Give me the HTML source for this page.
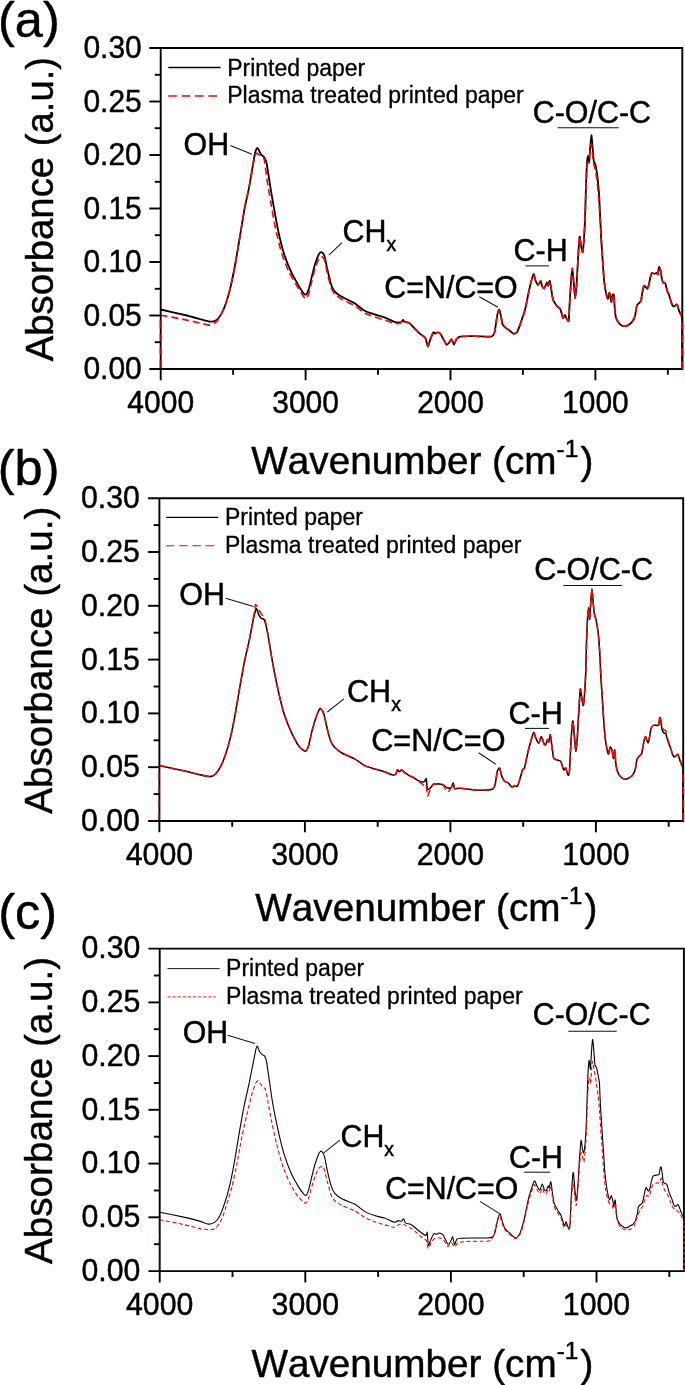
<!DOCTYPE html>
<html lang="en"><head><meta charset="utf-8"><title>FTIR spectra</title>
<style>html,body{margin:0;padding:0;background:#fff}body{width:685px;height:1385px;overflow:hidden}svg text{font-kerning:none}</style>
</head><body>
<svg width="685" height="1385" viewBox="0 0 685 1385" style="display:block">
<rect width="685" height="1385" fill="#fff"/>
<g>
<path d="M160.7,309.5 C163.1,310.1 180.9,314.1 184.8,315.0 C188.7,315.9 197.2,318.3 199.7,319.0 C202.2,319.7 208.0,321.4 209.6,321.6 C211.2,321.8 214.7,321.3 215.8,320.6 C216.9,319.9 219.8,316.6 220.8,314.9 C221.8,313.2 224.8,306.6 225.8,303.7 C226.8,300.8 229.7,290.6 230.7,286.4 C231.7,282.2 234.8,266.5 235.7,261.5 C236.6,256.5 239.0,241.9 239.9,236.7 C240.8,231.5 243.5,214.5 244.4,209.4 C245.3,204.3 248.5,190.8 249.4,185.8 C250.3,180.8 253.2,163.3 253.8,159.8 C254.4,156.3 255.2,152.3 255.6,151.1 C256.0,149.9 257.1,147.9 257.5,147.9 C257.9,147.9 258.9,150.4 259.3,151.1 C259.7,151.8 260.8,154.2 261.3,154.8 C261.8,155.4 263.7,156.4 264.2,157.3 C264.7,158.2 266.2,161.3 266.7,163.5 C267.2,165.7 268.6,175.8 269.2,179.6 C269.8,183.4 272.0,197.0 272.9,202.0 C273.8,207.0 276.8,224.1 277.9,229.3 C279.0,234.5 282.7,249.8 284.1,254.1 C285.5,258.4 290.0,269.5 291.5,272.7 C293.0,275.9 297.8,284.3 299.0,286.4 C300.2,288.5 303.3,293.0 304.0,293.8 C304.7,294.6 305.9,294.8 306.4,294.3 C306.9,293.8 308.3,290.6 308.9,288.8 C309.4,287.0 311.3,278.9 311.9,276.4 C312.5,273.9 314.4,266.2 315.1,264.0 C315.8,261.8 318.3,255.3 318.9,254.1 C319.5,252.9 320.8,252.0 321.3,252.1 C321.8,252.2 323.7,253.7 324.3,255.5 C324.9,257.3 326.7,266.8 327.4,269.7 C328.1,272.6 330.4,282.4 331.1,284.6 C331.8,286.8 333.7,290.4 334.8,291.6 C335.9,292.8 340.3,295.8 342.3,297.0 C344.3,298.2 352.5,301.8 354.7,303.2 C356.9,304.6 362.6,309.6 364.6,310.7 C366.6,311.8 372.5,313.7 374.5,314.4 C376.5,315.1 382.5,316.7 384.5,317.4 C386.5,318.1 392.8,321.3 394.4,321.8 C396.0,322.3 399.7,322.5 400.6,322.3 C401.5,322.1 402.7,319.9 403.1,319.9 C403.5,319.8 403.7,321.5 404.3,321.8 C404.9,322.1 408.3,322.5 409.3,323.1 C410.3,323.7 413.1,326.9 414.2,328.0 C415.3,329.1 419.3,333.2 420.4,334.2 C421.5,335.2 424.6,336.8 425.4,338.0 C426.1,339.2 427.4,346.6 427.9,346.7 C428.4,346.8 429.8,340.6 430.4,339.2 C430.9,337.8 432.9,332.9 433.4,332.3 C433.9,331.8 434.9,333.7 435.3,333.7 C435.7,333.7 437.3,332.3 437.8,332.3 C438.3,332.3 439.8,333.1 440.3,333.7 C440.8,334.3 442.2,336.9 442.8,338.0 C443.4,339.1 445.9,344.2 446.5,344.7 C447.1,345.2 448.5,343.4 449.0,342.9 C449.5,342.3 451.0,339.0 451.5,339.2 C452.0,339.4 453.5,344.7 454.0,344.7 C454.5,344.7 455.8,340.0 456.4,339.2 C457.0,338.4 458.9,337.0 460.2,336.7 C461.4,336.4 467.4,336.2 468.9,336.2 C470.4,336.1 473.0,336.1 474.8,336.2 C476.6,336.2 485.5,336.7 487.2,336.7 C488.9,336.7 491.4,336.7 492.2,336.2 C492.9,335.7 494.2,333.9 494.7,331.8 C495.2,329.7 496.8,317.8 497.2,315.6 C497.6,313.4 498.7,309.4 499.1,309.4 C499.5,309.4 500.5,314.1 500.9,315.6 C501.2,317.1 502.1,323.1 502.6,324.3 C503.1,325.5 505.1,327.4 505.8,328.0 C506.5,328.6 508.9,329.9 509.6,330.5 C510.4,331.1 512.6,333.5 513.3,333.7 C514.0,333.9 516.3,333.2 517.0,332.3 C517.7,331.4 519.6,326.0 520.2,324.3 C520.8,322.6 522.7,317.3 523.2,315.6 C523.8,313.9 525.2,309.0 525.7,306.9 C526.2,304.8 527.7,296.9 528.2,294.5 C528.7,292.1 530.2,285.4 530.7,283.4 C531.2,281.4 533.1,274.4 533.6,274.2 C534.1,273.9 535.1,279.8 535.6,280.9 C536.1,282.0 537.6,285.1 538.1,285.1 C538.6,285.1 540.2,280.8 540.6,280.9 C541.0,281.0 541.9,285.9 542.3,286.6 C542.7,287.3 543.8,288.7 544.3,288.3 C544.8,287.9 546.4,282.9 546.8,282.6 C547.2,282.4 547.7,286.0 548.0,285.8 C548.3,285.6 549.5,280.5 549.8,280.9 C550.1,281.3 551.0,287.7 551.3,289.6 C551.6,291.5 552.5,297.9 553.0,299.5 C553.5,301.1 556.0,304.7 556.7,305.7 C557.5,306.7 559.9,308.3 560.5,309.5 C561.1,310.7 562.4,317.3 562.9,317.9 C563.4,318.4 564.7,314.9 565.1,315.0 C565.5,315.1 566.2,318.0 566.6,318.6 C567.0,319.2 568.4,322.1 568.7,321.0 C569.0,319.9 569.2,311.6 569.4,307.8 C569.6,304.0 570.6,287.2 570.9,283.2 C571.2,279.2 572.0,268.1 572.3,268.1 C572.6,268.1 573.5,280.2 573.8,283.2 C574.1,286.2 574.9,298.4 575.2,298.4 C575.5,298.4 576.4,287.3 576.7,283.2 C577.0,279.1 577.8,261.8 578.1,257.2 C578.4,252.5 579.3,237.8 579.6,236.7 C579.9,235.5 580.7,244.1 581.0,245.7 C581.3,247.2 582.4,252.8 582.7,252.2 C583.0,251.6 583.7,243.0 583.9,239.9 C584.1,236.8 584.8,225.9 585.0,221.1 C585.2,216.3 585.6,197.7 585.8,192.2 C586.0,186.7 586.6,169.8 586.8,166.2 C587.0,162.6 587.7,156.5 587.9,156.1 C588.1,155.7 588.9,163.3 589.1,162.6 C589.3,161.9 589.9,151.6 590.1,148.9 C590.3,146.2 591.1,135.3 591.4,135.2 C591.6,135.0 592.4,144.9 592.6,147.4 C592.8,149.9 593.4,158.7 593.7,160.4 C594.0,162.1 595.0,163.1 595.4,164.8 C595.8,166.5 597.2,174.8 597.6,177.8 C598.0,180.8 598.8,191.1 599.1,195.1 C599.4,199.1 600.0,213.9 600.2,218.2 C600.4,222.5 601.0,234.1 601.2,238.4 C601.5,242.7 602.4,257.3 602.7,261.5 C603.0,265.7 603.8,277.3 604.1,280.3 C604.4,283.3 605.4,290.0 605.8,291.9 C606.2,293.8 607.3,299.0 607.7,299.1 C608.1,299.2 609.2,292.3 609.6,292.6 C610.0,292.9 611.0,301.8 611.3,302.0 C611.6,302.2 612.2,295.4 612.5,294.8 C612.8,294.2 613.7,294.1 613.9,295.5 C614.1,296.9 614.6,306.8 614.8,309.0 C615.0,311.2 615.6,316.1 616.0,317.5 C616.4,318.9 618.1,322.0 618.7,322.8 C619.3,323.6 621.2,325.4 621.9,325.7 C622.5,326.0 624.5,326.2 625.2,326.1 C625.9,326.0 628.5,324.9 629.2,324.4 C629.9,323.9 631.8,322.4 632.4,321.5 C633.0,320.6 634.7,317.1 635.1,315.5 C635.5,313.9 636.4,306.9 636.8,305.7 C637.2,304.5 638.6,303.6 639.0,303.1 C639.4,302.6 640.7,302.2 641.0,301.1 C641.3,300.1 642.0,294.1 642.3,292.6 C642.6,291.1 643.6,286.6 643.9,286.0 C644.2,285.4 645.3,286.7 645.6,287.0 C645.9,287.3 647.0,289.1 647.3,288.9 C647.6,288.7 648.6,285.8 648.9,284.7 C649.2,283.6 649.9,279.3 650.2,278.1 C650.5,276.9 651.4,273.2 651.8,272.8 C652.2,272.4 653.6,273.9 654.1,273.9 C654.6,273.9 656.4,272.8 656.8,272.8 C657.2,272.9 657.6,275.0 657.8,274.4 C658.0,273.8 658.8,267.2 659.1,266.9 C659.4,266.6 660.4,270.2 660.7,271.5 C661.0,272.8 661.7,278.3 662.0,279.4 C662.3,280.5 663.0,282.3 663.3,282.7 C663.6,283.1 664.9,282.5 665.3,283.4 C665.7,284.2 666.9,290.0 667.3,291.2 C667.7,292.4 668.8,294.1 669.2,295.2 C669.6,296.3 670.8,301.3 671.2,302.4 C671.6,303.5 672.8,306.0 673.2,306.3 C673.6,306.6 674.7,305.9 675.1,305.7 C675.5,305.5 676.7,304.1 677.1,304.6 C677.5,305.1 678.6,309.6 679.1,310.9 C679.6,312.2 682.0,316.8 682.3,317.5 L682.3,369.0" fill="none" stroke="#000" stroke-width="1.8" stroke-linejoin="round"/>
<path d="M160.7,315.2 C163.1,315.6 180.9,318.8 184.8,319.6 C188.7,320.4 197.2,322.4 199.7,323.0 C202.2,323.5 208.0,325.2 209.6,325.1 C211.2,325.1 214.7,323.4 215.8,322.4 C216.9,321.4 219.8,317.1 220.8,315.2 C221.8,313.4 224.8,306.6 225.8,303.7 C226.8,300.8 229.7,290.6 230.7,286.4 C231.7,282.2 234.8,266.5 235.7,261.5 C236.6,256.5 239.0,241.9 239.9,236.7 C240.8,231.5 243.5,214.5 244.4,209.4 C245.3,204.3 248.5,190.7 249.4,185.8 C250.3,180.9 253.2,163.9 253.8,160.8 C254.4,157.6 255.2,155.0 255.6,154.3 C256.0,153.5 257.1,153.3 257.5,153.4 C257.9,153.5 258.9,154.7 259.3,155.1 C259.7,155.4 260.9,156.9 261.3,157.1 C261.7,157.3 263.0,156.7 263.4,157.3 C263.8,157.9 264.6,161.3 265.0,163.5 C265.3,165.7 266.4,175.8 267.0,179.6 C267.6,183.4 269.8,197.0 270.7,202.0 C271.6,207.0 274.6,224.1 275.7,229.3 C276.8,234.5 280.5,249.8 281.9,254.1 C283.3,258.4 287.7,269.4 289.3,272.7 C290.9,276.0 296.2,284.5 297.6,287.0 C299.1,289.4 303.1,296.0 304.0,297.2 C304.9,298.4 305.9,299.2 306.4,298.8 C306.9,298.4 308.3,295.1 308.9,293.3 C309.4,291.5 311.3,283.4 311.9,280.9 C312.5,278.4 314.4,270.7 315.1,268.5 C315.8,266.3 318.3,259.8 318.9,258.6 C319.5,257.4 320.8,256.5 321.3,256.6 C321.8,256.6 323.7,257.9 324.3,259.5 C324.9,261.2 326.7,270.5 327.4,273.3 C328.1,276.1 330.4,285.6 331.1,287.7 C331.8,289.7 333.7,292.9 334.8,294.1 C335.9,295.3 340.3,298.3 342.3,299.5 C344.3,300.7 352.5,304.3 354.7,305.7 C356.9,307.1 362.6,312.1 364.6,313.2 C366.6,314.3 372.5,316.2 374.5,316.9 C376.5,317.6 382.5,319.2 384.5,319.9 C386.5,320.6 392.8,323.2 394.4,323.5 C396.0,323.8 399.7,323.3 400.6,322.9 C401.5,322.6 402.7,320.2 403.1,320.1 C403.5,319.9 403.7,321.5 404.3,321.8 C404.9,322.1 408.3,322.5 409.3,323.1 C410.3,323.7 413.1,326.9 414.2,328.0 C415.3,329.1 419.3,333.2 420.4,334.2 C421.5,335.2 424.6,336.8 425.4,338.0 C426.1,339.2 427.4,346.6 427.9,346.7 C428.4,346.8 429.8,340.6 430.4,339.2 C430.9,337.8 432.9,332.9 433.4,332.3 C433.9,331.8 434.9,333.7 435.3,333.7 C435.7,333.7 437.3,332.3 437.8,332.3 C438.3,332.3 439.8,333.1 440.3,333.7 C440.8,334.3 442.2,336.9 442.8,338.0 C443.4,339.1 445.9,344.2 446.5,344.7 C447.1,345.2 448.5,343.4 449.0,342.9 C449.5,342.3 451.0,339.0 451.5,339.2 C452.0,339.4 453.5,344.7 454.0,344.7 C454.5,344.7 455.8,340.0 456.4,339.2 C457.0,338.4 458.9,337.0 460.2,336.7 C461.4,336.4 467.4,336.2 468.9,336.2 C470.4,336.1 473.0,336.1 474.8,336.2 C476.6,336.2 485.5,336.7 487.2,336.7 C488.9,336.7 491.4,336.7 492.2,336.2 C492.9,335.7 494.2,333.9 494.7,331.8 C495.2,329.7 496.8,317.8 497.2,315.6 C497.6,313.4 498.7,309.4 499.1,309.4 C499.5,309.4 500.5,314.1 500.9,315.6 C501.2,317.1 502.1,323.1 502.6,324.3 C503.1,325.5 505.1,327.4 505.8,328.0 C506.5,328.6 508.9,329.9 509.6,330.5 C510.4,331.1 512.6,333.5 513.3,333.7 C514.0,333.9 516.3,333.2 517.0,332.3 C517.7,331.4 519.6,326.0 520.2,324.3 C520.8,322.6 522.7,317.3 523.2,315.6 C523.8,313.9 525.2,309.0 525.7,306.9 C526.2,304.8 527.7,296.9 528.2,294.5 C528.7,292.1 530.2,285.4 530.7,283.4 C531.2,281.4 533.1,274.4 533.6,274.2 C534.1,273.9 535.1,279.8 535.6,280.9 C536.1,282.0 537.6,285.1 538.1,285.1 C538.6,285.1 540.2,280.8 540.6,280.9 C541.0,281.0 541.9,285.9 542.3,286.6 C542.7,287.3 543.8,288.7 544.3,288.3 C544.8,287.9 546.4,282.9 546.8,282.6 C547.2,282.4 547.7,286.0 548.0,285.8 C548.3,285.6 549.5,280.5 549.8,280.9 C550.1,281.3 551.0,287.7 551.3,289.6 C551.6,291.5 552.5,297.9 553.0,299.5 C553.5,301.1 556.0,304.7 556.7,305.7 C557.5,306.7 559.9,308.3 560.5,309.5 C561.1,310.7 562.4,317.3 562.9,317.9 C563.4,318.4 564.7,314.9 565.1,315.0 C565.5,315.1 566.2,318.0 566.6,318.6 C567.0,319.2 568.4,322.1 568.7,321.0 C569.0,319.9 569.2,311.6 569.4,307.8 C569.6,304.0 570.6,287.2 570.9,283.2 C571.2,279.2 572.0,268.1 572.3,268.1 C572.6,268.1 573.5,280.2 573.8,283.2 C574.1,286.2 574.9,298.4 575.2,298.4 C575.5,298.4 576.4,287.3 576.7,283.2 C577.0,279.1 577.8,261.8 578.1,257.2 C578.4,252.5 579.3,237.8 579.6,236.7 C579.9,235.5 580.7,244.1 581.0,245.7 C581.3,247.2 582.4,252.8 582.7,252.2 C583.0,251.6 583.7,243.0 583.9,239.9 C584.1,236.8 584.8,225.9 585.0,221.1 C585.2,216.3 585.6,197.7 585.8,192.2 C586.0,186.7 586.6,169.1 586.8,166.2 C587.0,163.3 587.7,163.8 587.9,163.0 C588.1,162.2 588.8,159.9 589.1,158.0 C589.4,156.1 590.9,144.4 591.2,143.8 C591.5,143.2 592.2,150.2 592.4,152.0 C592.6,153.8 593.1,160.4 593.3,162.0 C593.5,163.6 594.4,166.2 594.8,168.0 C595.2,169.8 596.6,177.1 597.0,180.0 C597.4,182.9 598.2,193.2 598.5,197.0 C598.8,200.8 599.9,214.1 600.2,218.2 C600.5,222.3 601.0,234.1 601.2,238.4 C601.5,242.7 602.4,257.3 602.7,261.5 C603.0,265.7 603.8,277.3 604.1,280.3 C604.4,283.3 605.4,290.0 605.8,291.9 C606.2,293.8 607.3,299.0 607.7,299.1 C608.1,299.2 609.2,292.3 609.6,292.6 C610.0,292.9 611.0,301.8 611.3,302.0 C611.6,302.2 612.2,295.4 612.5,294.8 C612.8,294.2 613.7,294.1 613.9,295.5 C614.1,296.9 614.6,306.8 614.8,309.0 C615.0,311.2 615.6,316.1 616.0,317.5 C616.4,318.9 618.1,322.0 618.7,322.8 C619.3,323.6 621.2,325.4 621.9,325.7 C622.5,326.0 624.5,326.2 625.2,326.1 C625.9,326.0 628.5,324.9 629.2,324.4 C629.9,323.9 631.8,322.4 632.4,321.5 C633.0,320.6 634.7,317.1 635.1,315.5 C635.5,313.9 636.4,306.9 636.8,305.7 C637.2,304.5 638.6,303.6 639.0,303.1 C639.4,302.6 640.7,302.2 641.0,301.1 C641.3,300.1 642.0,294.1 642.3,292.6 C642.6,291.1 643.6,286.6 643.9,286.0 C644.2,285.4 645.3,286.7 645.6,287.0 C645.9,287.3 647.0,289.1 647.3,288.9 C647.6,288.7 648.6,285.8 648.9,284.7 C649.2,283.6 649.9,279.3 650.2,278.1 C650.5,276.9 651.4,273.2 651.8,272.8 C652.2,272.4 653.6,273.9 654.1,273.9 C654.6,273.9 656.4,272.8 656.8,272.8 C657.2,272.9 657.6,275.0 657.8,274.4 C658.0,273.8 658.8,267.2 659.1,266.9 C659.4,266.6 660.4,270.2 660.7,271.5 C661.0,272.8 661.7,278.3 662.0,279.4 C662.3,280.5 663.0,282.3 663.3,282.7 C663.6,283.1 664.9,282.5 665.3,283.4 C665.7,284.2 666.9,290.0 667.3,291.2 C667.7,292.4 668.8,294.1 669.2,295.2 C669.6,296.3 670.8,301.3 671.2,302.4 C671.6,303.5 672.8,306.0 673.2,306.3 C673.6,306.6 674.7,305.9 675.1,305.7 C675.5,305.5 676.7,304.1 677.1,304.6 C677.5,305.1 678.6,309.6 679.1,310.9 C679.6,312.2 682.0,316.8 682.3,317.5 L682.3,369.0" fill="none" stroke="#f00" stroke-width="1.6" stroke-dasharray="7 3.9" stroke-linejoin="round"/>
<g stroke="#000" stroke-width="1.9" fill="none">
<path d="M149.3,48.0 H682.3 V369.0 H149.3"/>
<path d="M160.7,48.0 V380.3"/>
<path d="M154.8,74.8 H160.7"/>
<path d="M149.3,101.5 H160.7"/>
<path d="M154.8,128.2 H160.7"/>
<path d="M149.3,155.0 H160.7"/>
<path d="M154.8,181.8 H160.7"/>
<path d="M149.3,208.5 H160.7"/>
<path d="M154.8,235.2 H160.7"/>
<path d="M149.3,262.0 H160.7"/>
<path d="M154.8,288.8 H160.7"/>
<path d="M149.3,315.5 H160.7"/>
<path d="M154.8,342.2 H160.7"/>
<path d="M233.1,369.0 V374.8"/>
<path d="M305.6,369.0 V380.3"/>
<path d="M378.0,369.0 V374.8"/>
<path d="M450.5,369.0 V380.3"/>
<path d="M522.9,369.0 V374.8"/>
<path d="M595.4,369.0 V380.3"/>
<path d="M667.8,369.0 V374.8"/>
</g>
<path d="M682.3,369.0 V318.5" stroke="#d80000" stroke-width="1.9" stroke-dasharray="8 5.1" fill="none"/>
<path d="M160.3,367.8 V316.2" stroke="#c00000" stroke-width="1.2" stroke-dasharray="8 5.1" fill="none"/>
<g font-family="'Liberation Sans', Arial, sans-serif" font-size="30" fill="#000" stroke="#000" stroke-width="0.45" stroke-linejoin="round">
<text transform="translate(141.8,58.2) scale(1,1.04)" text-anchor="end">0.30</text>
<text transform="translate(141.8,111.7) scale(1,1.04)" text-anchor="end">0.25</text>
<text transform="translate(141.8,165.2) scale(1,1.04)" text-anchor="end">0.20</text>
<text transform="translate(141.8,218.7) scale(1,1.04)" text-anchor="end">0.15</text>
<text transform="translate(141.8,272.2) scale(1,1.04)" text-anchor="end">0.10</text>
<text transform="translate(141.8,325.7) scale(1,1.04)" text-anchor="end">0.05</text>
<text transform="translate(141.8,379.2) scale(1,1.04)" text-anchor="end">0.00</text>
<text transform="translate(160.7,413.3) scale(1,1.04)" text-anchor="middle">4000</text>
<text transform="translate(305.6,413.3) scale(1,1.04)" text-anchor="middle">3000</text>
<text transform="translate(450.5,413.3) scale(1,1.04)" text-anchor="middle">2000</text>
<text transform="translate(595.4,413.3) scale(1,1.04)" text-anchor="middle">1000</text>
</g>
<text font-family="'Liberation Sans', Arial, sans-serif" stroke="#000" stroke-width="0.45" stroke-linejoin="round" font-size="38.3" text-anchor="middle" transform="translate(53.0,209.1) rotate(-90) scale(1,1.0)">Absorbance (a.u.)</text>
<text font-family="'Liberation Sans', Arial, sans-serif" stroke="#000" stroke-width="0.45" stroke-linejoin="round" font-size="38.7" transform="translate(251.3,474.1) scale(1,1.0)">Wavenumber (cm<tspan font-size="24.5" dy="-17.3">-1</tspan><tspan dy="17.3" dx="2">)</tspan></text>
<text font-family="'Liberation Sans', Arial, sans-serif" stroke="#000" stroke-width="0.45" stroke-linejoin="round" font-size="50.5" transform="translate(-2.0,37.4) scale(1,1.0)">(a)</text>
<path d="M168.3,67.5 H220.5" stroke="#000" stroke-width="1.3"/>
<path d="M168.3,96.0 H220.5" stroke="#f00" stroke-width="1.5" stroke-dasharray="8.6 4.8"/>
<g font-family="'Liberation Sans', Arial, sans-serif" font-size="23.0" fill="#000" stroke="#000" stroke-width="0.3">
<text transform="translate(227.2,75.5) scale(1,1.04)" >Printed paper</text>
<text transform="translate(227.2,102.7) scale(1,1.04)" >Plasma treated printed paper</text>
</g>
<g font-family="'Liberation Sans', Arial, sans-serif" font-size="30.4" fill="#000" stroke="#000" stroke-width="0.45" stroke-linejoin="round">
<text transform="translate(183.6,154.8) scale(1,1.04)" >OH</text>
<text transform="translate(342.5,241.7) scale(1,1.04)" >CH<tspan font-size="19.5" dy="9.2">x</tspan></text>
<text transform="translate(384.3,297.9) scale(1,1.04)" >C=N/C=O</text>
<text transform="translate(513.6,260.8) scale(1,1.04)" >C-H</text>
<text transform="translate(532.8,123.3) scale(1,1.04)" >C-O/C-C</text>
</g>
<g stroke="#111" stroke-width="1.05" fill="none">
<path d="M230.4,145.6 L252.0,154.3"/>
<path d="M342.0,242.6 L328.9,255.2"/>
<path d="M479.3,296.7 L498.0,307.2"/>
<path d="M525.6,265.9 L548.9,265.9"/>
<path d="M557.5,127.8 L618.7,127.8"/>
</g>
</g>
<g>
<path d="M159.4,765.5 C162.0,766.1 179.8,770.0 184.8,771.1 C189.8,772.2 206.5,776.4 209.6,776.6 C212.7,776.9 214.7,774.6 215.8,773.6 C216.9,772.6 219.8,768.2 220.8,766.2 C221.8,764.2 224.8,756.7 225.8,753.7 C226.8,750.7 229.7,740.6 230.7,736.4 C231.7,732.2 234.8,716.5 235.7,711.5 C236.6,706.5 239.0,691.7 239.9,686.7 C240.8,681.7 243.5,666.6 244.4,661.9 C245.3,657.2 248.5,644.1 249.4,639.6 C250.3,635.1 253.1,620.3 253.8,617.2 C254.5,614.1 255.8,608.8 256.3,608.5 C256.8,608.2 258.3,613.7 258.8,614.7 C259.3,615.7 260.8,618.0 261.3,618.5 C261.8,619.0 263.7,618.7 264.2,619.7 C264.7,620.7 266.2,626.2 266.7,628.4 C267.2,630.6 268.6,638.4 269.2,642.0 C269.8,645.6 272.0,659.7 272.9,664.4 C273.8,669.1 276.8,684.2 277.9,689.2 C279.0,694.2 282.7,709.7 284.1,714.0 C285.5,718.3 290.0,729.4 291.5,732.6 C293.0,735.8 297.6,744.4 299.0,746.3 C300.4,748.2 304.3,751.3 305.2,751.3 C306.1,751.3 307.7,748.3 308.4,746.3 C309.1,744.3 311.1,734.2 311.9,731.4 C312.6,728.5 315.2,720.0 315.9,717.8 C316.6,715.6 318.9,710.4 319.3,709.5 C319.8,708.6 320.0,708.1 320.4,708.5 C320.8,708.9 323.0,711.4 323.7,713.5 C324.4,715.6 326.7,726.8 327.4,729.6 C328.1,732.5 330.4,740.2 331.1,742.0 C331.8,743.8 333.7,746.4 334.8,747.5 C335.9,748.6 340.3,752.1 342.3,753.2 C344.3,754.3 352.5,757.7 354.7,758.9 C356.9,760.1 362.6,764.6 364.6,765.6 C366.6,766.6 372.5,768.3 374.5,768.9 C376.5,769.5 382.8,771.2 384.5,771.8 C386.2,772.4 390.8,774.5 391.9,774.8 C393.0,775.0 395.1,774.8 395.6,774.3 C396.2,773.8 397.0,770.0 397.4,769.8 C397.8,769.5 399.0,771.8 399.4,771.8 C399.8,771.8 401.3,769.8 401.8,769.8 C402.3,769.8 403.6,771.7 404.3,772.3 C405.1,772.9 408.3,775.0 409.3,775.6 C410.3,776.2 413.2,777.4 414.2,778.0 C415.2,778.6 418.2,780.9 419.2,781.3 C420.2,781.7 423.5,782.0 424.2,781.8 C424.9,781.5 425.9,778.1 426.2,778.8 C426.5,779.5 427.0,788.3 427.4,789.2 C427.8,790.1 429.8,788.5 430.4,788.0 C431.0,787.5 432.7,784.6 433.4,784.2 C434.1,783.8 436.9,783.7 437.8,783.7 C438.7,783.8 441.8,784.3 442.8,784.7 C443.8,785.1 446.9,787.8 447.8,788.0 C448.7,788.2 451.0,787.7 451.5,787.2 C452.0,786.7 452.9,782.9 453.2,783.0 C453.5,783.1 454.1,788.2 454.7,788.7 C455.3,789.2 457.5,788.2 458.9,788.2 C460.3,788.2 467.3,789.0 468.9,789.2 C470.5,789.4 473.0,789.9 474.8,790.0 C476.6,790.1 485.4,790.1 487.2,790.0 C489.0,789.9 491.9,789.8 492.7,789.2 C493.5,788.6 494.8,785.9 495.2,784.2 C495.6,782.5 496.8,773.4 497.2,771.8 C497.6,770.2 499.2,767.7 499.6,768.1 C500.0,768.5 501.1,774.3 501.6,775.6 C502.1,776.9 503.9,780.6 504.6,781.3 C505.3,782.0 507.6,782.4 508.3,783.0 C509.0,783.6 511.4,787.0 512.0,787.2 C512.6,787.5 514.0,785.6 514.5,785.5 C515.0,785.4 516.9,787.0 517.5,786.2 C518.1,785.5 519.7,779.6 520.2,778.0 C520.7,776.4 522.1,770.8 522.5,769.8 C522.9,768.8 524.1,769.4 524.5,768.1 C524.9,766.8 526.4,759.3 526.9,756.9 C527.4,754.5 529.2,746.9 529.9,744.5 C530.6,742.1 533.0,733.3 533.6,732.6 C534.2,731.9 535.1,736.5 535.6,737.6 C536.1,738.7 538.0,743.4 538.6,743.3 C539.2,743.2 540.8,736.6 541.3,736.6 C541.8,736.6 543.4,742.5 543.8,743.3 C544.2,744.1 545.2,745.4 545.6,745.0 C546.0,744.6 547.2,739.9 547.5,739.6 C547.8,739.3 548.5,742.5 548.8,742.0 C549.1,741.5 550.0,734.3 550.3,734.6 C550.6,734.9 551.5,742.6 551.8,745.0 C552.1,747.4 553.2,756.7 553.7,758.2 C554.2,759.7 556.5,759.6 557.2,759.9 C557.9,760.2 560.1,760.4 560.8,761.4 C561.4,762.4 563.2,769.4 563.7,770.0 C564.2,770.6 565.4,767.4 565.8,767.9 C566.2,768.4 567.5,774.6 567.9,775.0 C568.3,775.4 569.1,775.2 569.4,772.0 C569.7,768.8 570.6,748.5 570.9,743.4 C571.2,738.3 572.4,721.6 572.8,721.0 C573.2,720.4 574.2,734.6 574.5,737.6 C574.8,740.6 575.6,751.4 575.9,751.3 C576.2,751.1 577.1,740.1 577.4,736.1 C577.7,732.1 578.5,716.3 578.8,711.6 C579.1,706.9 580.0,690.7 580.3,689.2 C580.6,687.8 581.4,695.5 581.7,697.1 C582.0,698.7 583.0,705.9 583.3,705.5 C583.6,705.1 584.4,696.2 584.6,692.8 C584.9,689.4 585.6,676.2 585.8,671.1 C586.0,666.0 586.3,647.4 586.5,642.2 C586.7,637.0 587.3,622.6 587.5,619.1 C587.7,615.6 588.3,607.6 588.5,607.6 C588.7,607.6 589.5,619.7 589.7,619.1 C589.9,618.5 590.6,604.8 590.8,601.8 C591.0,598.8 591.8,588.8 592.0,588.8 C592.2,588.8 592.9,599.3 593.1,601.8 C593.3,604.2 594.0,611.4 594.3,613.3 C594.6,615.2 595.8,618.6 596.2,620.6 C596.6,622.6 597.9,630.3 598.3,633.6 C598.7,636.9 599.5,649.5 599.8,653.8 C600.1,658.1 600.6,672.3 600.9,676.9 C601.2,681.5 602.1,695.5 602.4,700.0 C602.7,704.5 603.5,717.8 603.8,721.7 C604.1,725.6 605.0,736.3 605.3,739.0 C605.6,741.7 606.7,747.6 607.0,749.1 C607.3,750.6 608.2,754.4 608.5,754.2 C608.8,754.0 609.8,747.4 610.2,747.0 C610.6,746.6 611.8,749.5 612.1,750.6 C612.4,751.8 613.2,758.6 613.5,758.5 C613.8,758.4 614.5,749.5 614.7,749.9 C614.9,750.3 615.5,760.2 615.7,762.1 C615.9,764.0 616.4,767.6 616.7,768.8 C617.0,770.0 618.2,773.2 618.7,774.1 C619.2,775.0 621.2,777.5 621.9,778.0 C622.5,778.5 624.5,779.3 625.2,779.3 C625.9,779.3 628.5,778.2 629.2,777.8 C629.9,777.4 631.8,776.2 632.4,775.4 C633.0,774.6 634.6,771.7 635.1,770.1 C635.6,768.5 636.6,761.0 637.0,759.6 C637.4,758.2 638.5,756.9 639.0,756.3 C639.5,755.7 641.2,754.7 641.6,753.7 C642.0,752.7 642.7,747.9 643.0,746.5 C643.3,745.1 644.0,740.9 644.3,739.9 C644.6,738.9 645.3,736.5 645.6,736.6 C645.9,736.7 646.6,740.0 646.9,740.6 C647.2,741.2 647.9,742.9 648.2,742.6 C648.5,742.3 649.2,738.6 649.5,737.3 C649.8,736.0 650.5,730.6 650.8,729.4 C651.1,728.2 652.3,725.9 652.8,725.5 C653.3,725.1 654.8,725.2 655.4,725.2 C656.0,725.2 658.3,726.0 658.7,725.2 C659.1,724.4 659.6,717.8 659.8,717.6 C660.0,717.4 660.9,721.6 661.1,722.8 C661.3,724.0 661.8,728.4 662.0,729.4 C662.2,730.4 663.2,732.2 663.6,732.7 C664.0,733.2 665.5,733.1 665.9,734.0 C666.3,734.9 667.4,739.8 667.9,741.2 C668.4,742.6 670.0,746.5 670.5,747.8 C671.0,749.1 672.1,753.5 672.5,754.4 C672.9,755.3 674.1,756.9 674.5,757.0 C674.9,757.1 676.1,755.7 676.5,755.4 C676.9,755.1 677.7,754.0 678.0,754.4 C678.3,754.8 679.3,758.6 679.7,759.6 C680.1,760.6 681.4,764.1 681.7,764.9 C682.1,765.7 683.1,767.2 683.2,767.5 L683.2,821.0" fill="none" stroke="#000" stroke-width="1.55" stroke-linejoin="round"/>
<path d="M159.4,765.5 C162.0,766.1 179.8,770.0 184.8,771.1 C189.8,772.2 206.5,776.4 209.6,776.6 C212.7,776.9 214.7,774.6 215.8,773.6 C216.9,772.6 219.8,768.2 220.8,766.2 C221.8,764.2 224.8,756.7 225.8,753.7 C226.8,750.7 229.7,740.6 230.7,736.4 C231.7,732.2 234.8,716.5 235.7,711.5 C236.6,706.5 239.0,691.7 239.9,686.7 C240.8,681.7 243.5,666.6 244.4,661.9 C245.3,657.2 248.5,644.2 249.4,639.6 C250.3,635.0 253.2,619.0 253.8,615.5 C254.4,612.0 255.1,605.2 255.6,604.6 C256.1,604.1 258.3,608.8 258.9,609.9 C259.6,610.9 261.7,614.3 262.3,615.1 C262.8,615.9 264.3,617.0 264.7,618.4 C265.2,619.7 266.3,626.0 266.7,628.4 C267.1,630.8 268.6,638.4 269.2,642.0 C269.8,645.6 272.0,659.7 272.9,664.4 C273.8,669.1 276.8,684.2 277.9,689.2 C279.0,694.2 282.7,709.7 284.1,714.0 C285.5,718.3 290.0,729.4 291.5,732.6 C293.0,735.8 297.6,744.4 299.0,746.3 C300.4,748.2 304.3,751.3 305.2,751.3 C306.1,751.3 307.7,748.3 308.4,746.3 C309.1,744.3 311.1,734.2 311.9,731.4 C312.6,728.5 315.2,720.0 315.9,717.8 C316.6,715.6 318.9,710.4 319.3,709.5 C319.8,708.6 320.0,708.1 320.4,708.5 C320.8,708.9 323.0,711.4 323.7,713.5 C324.4,715.6 326.7,726.8 327.4,729.6 C328.1,732.5 330.4,740.2 331.1,742.0 C331.8,743.8 333.7,746.4 334.8,747.5 C335.9,748.6 340.3,752.1 342.3,753.2 C344.3,754.3 352.5,757.7 354.7,758.9 C356.9,760.1 362.6,764.6 364.6,765.6 C366.6,766.6 372.5,768.3 374.5,768.9 C376.5,769.5 382.8,771.2 384.5,771.8 C386.2,772.4 390.8,774.5 391.9,774.8 C393.0,775.0 395.1,774.8 395.6,774.3 C396.2,773.8 397.0,770.0 397.4,769.8 C397.8,769.5 399.0,771.8 399.4,771.8 C399.8,771.8 401.3,769.8 401.8,769.8 C402.3,769.8 403.6,771.7 404.3,772.3 C405.1,772.9 408.3,775.0 409.3,775.6 C410.3,776.2 413.2,777.4 414.2,778.0 C415.2,778.6 418.2,780.5 419.2,781.3 C420.2,782.1 423.5,785.4 424.2,785.8 C424.9,786.1 425.9,783.6 426.2,784.7 C426.5,785.7 427.0,795.7 427.4,796.2 C427.8,796.7 429.8,790.4 430.4,789.2 C431.0,788.0 432.7,784.7 433.4,784.2 C434.1,783.7 436.9,783.7 437.8,783.7 C438.7,783.8 441.8,783.9 442.8,784.7 C443.8,785.5 446.9,791.8 447.8,792.0 C448.7,792.2 451.0,788.1 451.5,787.2 C452.0,786.3 452.9,782.9 453.2,783.0 C453.5,783.1 454.1,788.2 454.7,788.7 C455.3,789.2 457.5,788.2 458.9,788.2 C460.3,788.2 467.3,789.0 468.9,789.2 C470.5,789.4 473.0,789.9 474.8,790.0 C476.6,790.1 485.4,790.1 487.2,790.0 C489.0,789.9 491.9,789.8 492.7,789.2 C493.5,788.6 494.8,785.9 495.2,784.2 C495.6,782.5 496.8,773.4 497.2,771.8 C497.6,770.2 499.2,767.7 499.6,768.1 C500.0,768.5 501.1,774.3 501.6,775.6 C502.1,776.9 503.9,780.6 504.6,781.3 C505.3,782.0 507.6,782.4 508.3,783.0 C509.0,783.6 511.4,787.0 512.0,787.2 C512.6,787.5 514.0,785.6 514.5,785.5 C515.0,785.4 516.9,787.0 517.5,786.2 C518.1,785.5 519.7,779.6 520.2,778.0 C520.7,776.4 522.1,770.8 522.5,769.8 C522.9,768.8 524.1,769.4 524.5,768.1 C524.9,766.8 526.4,759.3 526.9,756.9 C527.4,754.5 529.2,746.9 529.9,744.5 C530.6,742.1 533.0,733.3 533.6,732.6 C534.2,731.9 535.1,736.5 535.6,737.6 C536.1,738.7 538.0,743.4 538.6,743.3 C539.2,743.2 540.8,736.6 541.3,736.6 C541.8,736.6 543.4,742.5 543.8,743.3 C544.2,744.1 545.2,745.4 545.6,745.0 C546.0,744.6 547.2,739.9 547.5,739.6 C547.8,739.3 548.5,742.5 548.8,742.0 C549.1,741.5 550.0,734.3 550.3,734.6 C550.6,734.9 551.5,742.6 551.8,745.0 C552.1,747.4 553.2,756.7 553.7,758.2 C554.2,759.7 556.5,759.6 557.2,759.9 C557.9,760.2 560.1,760.4 560.8,761.4 C561.4,762.4 563.2,769.4 563.7,770.0 C564.2,770.6 565.4,767.4 565.8,767.9 C566.2,768.4 567.5,774.6 567.9,775.0 C568.3,775.4 569.1,775.2 569.4,772.0 C569.7,768.8 570.6,748.5 570.9,743.4 C571.2,738.3 572.4,721.6 572.8,721.0 C573.2,720.4 574.2,734.6 574.5,737.6 C574.8,740.6 575.6,751.4 575.9,751.3 C576.2,751.1 577.1,740.1 577.4,736.1 C577.7,732.1 578.5,716.3 578.8,711.6 C579.1,706.9 580.0,690.7 580.3,689.2 C580.6,687.8 581.4,695.5 581.7,697.1 C582.0,698.7 583.0,705.9 583.3,705.5 C583.6,705.1 584.4,696.2 584.6,692.8 C584.9,689.4 585.6,676.2 585.8,671.1 C586.0,666.0 586.3,647.4 586.5,642.2 C586.7,637.0 587.3,622.6 587.5,619.1 C587.7,615.6 588.3,607.6 588.5,607.6 C588.7,607.6 589.5,619.7 589.7,619.1 C589.9,618.5 590.6,604.8 590.8,601.8 C591.0,598.8 591.8,588.8 592.0,588.8 C592.2,588.8 592.9,599.3 593.1,601.8 C593.3,604.2 594.0,611.4 594.3,613.3 C594.6,615.2 595.8,618.6 596.2,620.6 C596.6,622.6 597.9,630.3 598.3,633.6 C598.7,636.9 599.5,649.5 599.8,653.8 C600.1,658.1 600.6,672.3 600.9,676.9 C601.2,681.5 602.1,695.5 602.4,700.0 C602.7,704.5 603.5,717.8 603.8,721.7 C604.1,725.6 605.0,736.3 605.3,739.0 C605.6,741.7 606.7,747.6 607.0,749.1 C607.3,750.6 608.2,754.4 608.5,754.2 C608.8,754.0 609.8,747.4 610.2,747.0 C610.6,746.6 611.8,749.5 612.1,750.6 C612.4,751.8 613.2,758.6 613.5,758.5 C613.8,758.4 614.5,749.5 614.7,749.9 C614.9,750.3 615.5,760.2 615.7,762.1 C615.9,764.0 616.4,767.6 616.7,768.8 C617.0,770.0 618.2,773.2 618.7,774.1 C619.2,775.0 621.2,777.5 621.9,778.0 C622.5,778.5 624.5,779.3 625.2,779.3 C625.9,779.3 628.5,778.2 629.2,777.8 C629.9,777.4 631.8,776.2 632.4,775.4 C633.0,774.6 634.6,771.7 635.1,770.1 C635.6,768.5 636.6,761.0 637.0,759.6 C637.4,758.2 638.5,756.9 639.0,756.3 C639.5,755.7 641.2,754.7 641.6,753.7 C642.0,752.7 642.7,747.9 643.0,746.5 C643.3,745.1 644.0,740.9 644.3,739.9 C644.6,738.9 645.3,736.5 645.6,736.6 C645.9,736.7 646.6,740.0 646.9,740.6 C647.2,741.2 647.9,742.9 648.2,742.6 C648.5,742.3 649.2,738.6 649.5,737.3 C649.8,736.0 650.5,730.6 650.8,729.4 C651.1,728.2 652.3,725.9 652.8,725.5 C653.3,725.1 654.8,725.3 655.4,725.2 C656.0,725.1 658.3,725.6 658.7,724.7 C659.1,723.8 659.6,716.7 659.8,716.2 C660.0,715.8 660.9,719.5 661.1,720.5 C661.3,721.5 661.8,725.5 662.0,726.4 C662.2,727.3 663.2,729.2 663.6,729.7 C664.0,730.2 665.5,730.0 665.9,731.0 C666.3,732.0 667.4,737.9 667.9,739.6 C668.4,741.3 670.0,746.3 670.5,747.8 C671.0,749.3 672.1,753.5 672.5,754.4 C672.9,755.3 674.1,756.9 674.5,757.0 C674.9,757.1 676.1,755.7 676.5,755.4 C676.9,755.1 677.7,754.0 678.0,754.4 C678.3,754.8 679.3,758.6 679.7,759.6 C680.1,760.6 681.4,764.1 681.7,764.9 C682.1,765.7 683.1,767.2 683.2,767.5 L683.2,821.0" fill="none" stroke="#f00" stroke-width="1.5" stroke-dasharray="7 3.9" stroke-linejoin="round"/>
<g stroke="#000" stroke-width="1.9" fill="none">
<path d="M148.1,498.2 H683.2 V821.0 H148.1"/>
<path d="M159.4,498.2 V832.3"/>
<path d="M153.6,525.1 H159.4"/>
<path d="M148.1,552.0 H159.4"/>
<path d="M153.6,578.9 H159.4"/>
<path d="M148.1,605.8 H159.4"/>
<path d="M153.6,632.7 H159.4"/>
<path d="M148.1,659.6 H159.4"/>
<path d="M153.6,686.5 H159.4"/>
<path d="M148.1,713.4 H159.4"/>
<path d="M153.6,740.3 H159.4"/>
<path d="M148.1,767.2 H159.4"/>
<path d="M153.6,794.1 H159.4"/>
<path d="M232.2,821.0 V826.8"/>
<path d="M304.9,821.0 V832.3"/>
<path d="M377.7,821.0 V826.8"/>
<path d="M450.4,821.0 V832.3"/>
<path d="M523.2,821.0 V826.8"/>
<path d="M595.9,821.0 V832.3"/>
<path d="M668.7,821.0 V826.8"/>
</g>
<path d="M683.2,821.0 V768.5" stroke="#d80000" stroke-width="1.9" stroke-dasharray="8 5.1" fill="none"/>
<path d="M159.1,819.8 V766.5" stroke="#c00000" stroke-width="1.2" stroke-dasharray="8 5.1" fill="none"/>
<g font-family="'Liberation Sans', Arial, sans-serif" font-size="30.3" fill="#000" stroke="#000" stroke-width="0.45" stroke-linejoin="round">
<text transform="translate(139.9,508.1) scale(1,1.04)" text-anchor="end">0.30</text>
<text transform="translate(139.9,561.9) scale(1,1.04)" text-anchor="end">0.25</text>
<text transform="translate(139.9,615.7) scale(1,1.04)" text-anchor="end">0.20</text>
<text transform="translate(139.9,669.5) scale(1,1.04)" text-anchor="end">0.15</text>
<text transform="translate(139.9,723.3) scale(1,1.04)" text-anchor="end">0.10</text>
<text transform="translate(139.9,777.1) scale(1,1.04)" text-anchor="end">0.05</text>
<text transform="translate(139.9,830.9) scale(1,1.04)" text-anchor="end">0.00</text>
<text transform="translate(159.4,865.3) scale(1,1.04)" text-anchor="middle">4000</text>
<text transform="translate(304.9,865.3) scale(1,1.04)" text-anchor="middle">3000</text>
<text transform="translate(450.4,865.3) scale(1,1.04)" text-anchor="middle">2000</text>
<text transform="translate(595.9,865.3) scale(1,1.04)" text-anchor="middle">1000</text>
</g>
<text font-family="'Liberation Sans', Arial, sans-serif" stroke="#000" stroke-width="0.45" stroke-linejoin="round" font-size="38.65" text-anchor="middle" transform="translate(52.3,660.2) rotate(-90) scale(1,1.0)">Absorbance (a.u.)</text>
<text font-family="'Liberation Sans', Arial, sans-serif" stroke="#000" stroke-width="0.45" stroke-linejoin="round" font-size="38.7" transform="translate(255.3,921.0) scale(1,1.0)">Wavenumber (cm<tspan font-size="24.5" dy="-17.3">-1</tspan><tspan dy="17.3" dx="2">)</tspan></text>
<text font-family="'Liberation Sans', Arial, sans-serif" stroke="#000" stroke-width="0.45" stroke-linejoin="round" font-size="50.5" transform="translate(-2.2,484.7) scale(1,1.0)">(b)</text>
<path d="M166.1,517.3 H218.3" stroke="#000" stroke-width="1.2"/>
<path d="M166.1,545.8 H218.3" stroke="#f00" stroke-width="1.1" stroke-dasharray="8.4 4.8"/>
<g font-family="'Liberation Sans', Arial, sans-serif" font-size="23.0" fill="#000" stroke="#000" stroke-width="0.3">
<text transform="translate(225.0,525.0) scale(1,1.04)" >Printed paper</text>
<text transform="translate(225.0,553.3) scale(1,1.04)" >Plasma treated printed paper</text>
</g>
<g font-family="'Liberation Sans', Arial, sans-serif" font-size="30.6" fill="#000" stroke="#000" stroke-width="0.45" stroke-linejoin="round">
<text transform="translate(179.2,604.7) scale(1,1.04)" >OH</text>
<text transform="translate(347.0,701.8) scale(1,1.04)" >CH<tspan font-size="19.5" dy="9.2">x</tspan></text>
<text transform="translate(371.2,750.5) scale(1,1.04)" >C=N/C=O</text>
<text transform="translate(508.5,723.6) scale(1,1.04)" >C-H</text>
<text transform="translate(534.2,579.9) scale(1,1.04)" >C-O/C-C</text>
</g>
<g stroke="#111" stroke-width="1.05" fill="none">
<path d="M225.7,598.2 L253.5,606.5"/>
<path d="M343.9,698.8 L327.3,712.0"/>
<path d="M478.5,752.8 L495.8,764.2"/>
<path d="M525.0,728.4 L549.2,728.4"/>
<path d="M563.4,585.5 L621.8,585.5"/>
</g>
</g>
<g>
<path d="M159.7,1212.2 C162.2,1212.7 180.8,1216.5 184.8,1217.4 C188.8,1218.3 197.3,1220.4 199.7,1221.1 C202.1,1221.8 206.9,1224.0 208.4,1224.1 C209.9,1224.2 213.5,1223.2 214.6,1222.4 C215.7,1221.6 218.6,1218.1 219.6,1216.2 C220.6,1214.3 223.5,1206.7 224.5,1203.7 C225.5,1200.7 228.5,1190.6 229.5,1186.4 C230.5,1182.2 233.5,1167.0 234.5,1161.5 C235.5,1156.0 238.4,1137.5 239.4,1131.8 C240.4,1126.1 243.4,1109.5 244.4,1104.5 C245.4,1099.5 248.5,1086.6 249.4,1082.1 C250.3,1077.6 253.1,1063.1 253.8,1059.8 C254.5,1056.5 255.7,1050.0 256.1,1048.6 C256.5,1047.2 257.2,1045.8 257.5,1046.1 C257.8,1046.3 258.9,1050.3 259.3,1051.1 C259.7,1051.9 261.3,1053.8 261.8,1054.3 C262.3,1054.8 264.2,1055.3 264.7,1056.1 C265.2,1056.9 266.2,1060.0 266.7,1062.3 C267.1,1064.6 268.6,1075.4 269.2,1079.6 C269.8,1083.8 272.0,1099.5 272.9,1104.5 C273.8,1109.5 276.8,1124.3 277.9,1129.3 C279.0,1134.3 282.7,1149.6 284.1,1154.1 C285.5,1158.6 290.0,1170.7 291.5,1174.0 C293.0,1177.3 297.8,1185.6 299.0,1187.6 C300.2,1189.6 303.3,1193.5 304.0,1194.3 C304.7,1195.0 305.9,1195.6 306.4,1195.1 C306.9,1194.5 308.3,1190.7 308.9,1188.8 C309.4,1186.9 311.3,1178.9 311.9,1176.4 C312.5,1173.9 314.4,1166.3 315.1,1164.0 C315.8,1161.7 318.3,1154.9 318.9,1153.6 C319.5,1152.3 320.8,1150.8 321.3,1151.1 C321.9,1151.3 323.8,1154.1 324.4,1156.1 C325.0,1158.1 326.7,1168.0 327.4,1171.0 C328.1,1174.0 330.4,1183.6 331.1,1185.8 C331.8,1188.0 333.7,1192.0 334.8,1193.3 C335.9,1194.6 340.3,1197.9 342.3,1199.0 C344.3,1200.1 352.5,1202.8 354.7,1204.0 C356.9,1205.2 362.6,1210.2 364.6,1211.4 C366.6,1212.6 372.5,1214.9 374.5,1215.6 C376.5,1216.3 382.5,1217.4 384.5,1218.1 C386.5,1218.8 393.0,1222.0 394.4,1222.3 C395.8,1222.5 397.4,1220.7 398.1,1220.6 C398.8,1220.5 400.7,1221.5 401.3,1221.3 C401.9,1221.1 403.4,1218.7 403.8,1218.9 C404.2,1219.1 404.9,1222.6 405.6,1223.1 C406.3,1223.6 409.5,1223.8 410.5,1224.3 C411.5,1224.8 414.4,1227.1 415.5,1228.0 C416.6,1228.9 420.6,1232.2 421.7,1233.0 C422.8,1233.8 425.6,1235.6 426.2,1235.5 C426.8,1235.4 427.0,1231.3 427.2,1232.3 C427.4,1233.3 428.0,1244.7 428.4,1245.4 C428.8,1246.1 430.3,1240.4 430.9,1239.2 C431.5,1238.0 433.5,1234.2 434.1,1233.7 C434.7,1233.2 436.1,1234.3 436.6,1234.2 C437.1,1234.1 438.5,1233.0 439.1,1233.0 C439.7,1233.0 442.2,1234.1 442.8,1234.7 C443.4,1235.3 444.8,1238.2 445.3,1239.2 C445.8,1240.2 447.3,1243.9 447.8,1244.2 C448.3,1244.5 449.7,1243.0 450.2,1242.2 C450.7,1241.5 452.3,1236.5 452.7,1236.7 C453.1,1237.0 454.1,1244.5 454.5,1244.7 C454.9,1245.0 456.2,1239.9 456.9,1239.2 C457.6,1238.5 460.0,1238.3 461.4,1238.2 C462.8,1238.1 470.0,1238.0 471.3,1238.0 C472.6,1238.0 473.2,1238.0 474.8,1238.0 C476.4,1238.0 485.4,1238.1 487.2,1238.0 C489.0,1237.9 491.9,1237.3 492.7,1236.7 C493.5,1236.1 494.7,1233.5 495.2,1231.8 C495.7,1230.1 497.2,1221.2 497.7,1219.4 C498.2,1217.6 499.7,1213.8 500.1,1213.9 C500.5,1214.0 501.7,1219.2 502.1,1220.6 C502.6,1222.0 504.0,1226.9 504.6,1228.0 C505.2,1229.1 507.6,1231.0 508.3,1231.8 C509.0,1232.5 511.2,1234.9 512.0,1235.5 C512.8,1236.1 515.0,1238.1 515.8,1238.0 C516.5,1237.9 518.8,1235.4 519.5,1234.2 C520.2,1233.0 521.9,1227.6 522.5,1225.6 C523.1,1223.6 524.7,1216.8 525.2,1214.4 C525.7,1212.0 527.2,1204.4 527.7,1202.0 C528.2,1199.6 530.0,1192.9 530.7,1190.8 C531.4,1188.7 533.8,1181.4 534.4,1180.9 C535.0,1180.4 536.4,1184.9 536.9,1185.8 C537.4,1186.7 539.3,1190.3 539.8,1190.1 C540.3,1189.9 541.8,1184.1 542.3,1184.1 C542.8,1184.0 543.9,1188.9 544.3,1189.6 C544.7,1190.3 545.9,1191.2 546.3,1190.8 C546.7,1190.4 548.0,1186.1 548.3,1185.8 C548.6,1185.5 549.0,1188.0 549.3,1187.6 C549.5,1187.2 550.5,1181.2 550.8,1181.6 C551.1,1182.0 552.0,1189.8 552.3,1192.0 C552.6,1194.2 553.6,1201.3 554.2,1203.2 C554.8,1205.1 557.3,1209.5 558.0,1210.7 C558.7,1211.9 560.6,1214.1 561.2,1215.6 C561.8,1217.1 563.7,1225.0 564.2,1225.6 C564.7,1226.2 565.8,1221.6 566.2,1221.8 C566.6,1222.0 568.0,1227.6 568.4,1228.0 C568.8,1228.4 569.6,1228.4 569.9,1225.6 C570.2,1222.8 570.8,1204.8 571.1,1199.5 C571.4,1194.2 572.8,1173.5 573.2,1172.5 C573.6,1171.5 574.6,1186.7 574.9,1189.5 C575.2,1192.3 576.2,1200.8 576.5,1200.3 C576.8,1199.8 577.7,1188.3 578.0,1184.1 C578.3,1179.9 579.2,1163.0 579.5,1158.6 C579.8,1154.2 580.8,1141.3 581.1,1140.3 C581.4,1139.3 582.1,1147.3 582.4,1148.6 C582.6,1149.9 583.3,1153.3 583.6,1152.9 C583.9,1152.5 584.8,1146.7 585.0,1144.2 C585.2,1141.7 585.9,1132.8 586.1,1128.3 C586.3,1123.8 586.9,1104.8 587.1,1099.5 C587.3,1094.2 587.7,1078.8 587.9,1074.9 C588.1,1071.0 588.9,1061.1 589.1,1060.5 C589.4,1059.9 590.2,1069.8 590.4,1069.1 C590.6,1068.4 591.2,1056.2 591.4,1053.2 C591.6,1050.2 592.4,1039.9 592.6,1039.5 C592.8,1039.1 593.5,1046.4 593.7,1048.9 C593.9,1051.4 594.7,1062.9 595.0,1064.8 C595.3,1066.7 596.3,1066.5 596.6,1067.7 C596.9,1068.9 598.0,1074.7 598.3,1076.3 C598.6,1077.9 599.3,1080.6 599.5,1083.6 C599.7,1086.6 600.2,1102.1 600.5,1106.7 C600.8,1111.3 601.7,1125.5 602.0,1129.8 C602.3,1134.1 603.1,1145.8 603.4,1150.0 C603.7,1154.2 604.5,1168.2 604.8,1171.7 C605.1,1175.2 606.0,1182.3 606.3,1184.7 C606.6,1187.1 607.9,1194.0 608.2,1195.5 C608.5,1197.0 609.3,1199.9 609.6,1199.9 C609.9,1199.9 611.0,1195.4 611.3,1195.5 C611.6,1195.6 612.5,1199.5 612.8,1200.6 C613.1,1201.7 613.7,1206.5 613.9,1206.4 C614.1,1206.3 615.0,1199.2 615.2,1199.9 C615.5,1200.6 616.2,1211.6 616.4,1213.6 C616.6,1215.6 617.0,1218.5 617.3,1219.5 C617.6,1220.5 618.8,1222.7 619.3,1223.4 C619.8,1224.1 621.9,1226.0 622.6,1226.5 C623.3,1227.0 625.6,1228.0 626.3,1228.0 C627.0,1228.0 629.1,1226.5 629.8,1226.1 C630.5,1225.7 632.5,1224.7 633.1,1224.1 C633.7,1223.5 635.3,1221.1 635.7,1220.1 C636.1,1219.0 637.0,1214.9 637.3,1213.6 C637.6,1212.3 638.1,1207.9 638.4,1207.0 C638.7,1206.1 639.9,1205.0 640.3,1204.6 C640.7,1204.2 642.0,1203.8 642.3,1203.1 C642.6,1202.4 643.3,1199.0 643.6,1197.8 C643.9,1196.6 644.6,1192.2 644.9,1191.2 C645.2,1190.2 645.9,1187.4 646.2,1187.3 C646.5,1187.2 647.3,1189.8 647.6,1190.2 C647.9,1190.6 648.6,1191.5 648.9,1191.2 C649.2,1190.9 649.9,1188.3 650.2,1187.3 C650.5,1186.2 651.2,1181.8 651.5,1180.7 C651.8,1179.6 652.6,1176.6 653.1,1176.1 C653.6,1175.5 655.5,1175.4 656.1,1175.2 C656.7,1175.0 658.7,1175.0 659.1,1174.4 C659.5,1173.8 659.8,1169.7 660.0,1168.9 C660.2,1168.2 660.9,1166.4 661.1,1166.9 C661.3,1167.4 662.1,1172.7 662.3,1174.2 C662.5,1175.7 663.0,1181.1 663.3,1182.0 C663.6,1182.9 664.9,1183.1 665.3,1183.4 C665.7,1183.7 666.6,1183.8 667.0,1184.7 C667.4,1185.6 668.7,1191.2 669.2,1192.6 C669.7,1194.0 671.4,1197.9 671.9,1199.1 C672.4,1200.3 673.4,1204.3 673.8,1205.0 C674.2,1205.7 675.4,1206.5 675.8,1206.4 C676.2,1206.3 677.6,1204.2 678.0,1204.4 C678.4,1204.6 679.3,1207.4 679.7,1208.3 C680.1,1209.2 681.3,1212.7 681.7,1213.6 C682.1,1214.5 683.7,1217.1 683.9,1217.5 L683.9,1271.1" fill="none" stroke="#000" stroke-width="1.1" stroke-linejoin="round"/>
<path d="M159.7,1219.7 C162.2,1220.2 180.8,1223.9 184.8,1224.8 C188.8,1225.7 197.2,1228.1 199.7,1228.6 C202.2,1229.1 208.0,1229.8 209.6,1229.8 C211.2,1229.8 214.6,1229.2 215.8,1228.1 C217.0,1227.0 220.9,1221.0 222.0,1218.6 C223.1,1216.2 226.0,1206.9 227.0,1203.7 C228.0,1200.5 231.0,1190.4 232.0,1186.4 C233.0,1182.4 235.9,1169.0 236.9,1164.0 C237.9,1159.0 240.9,1141.7 241.9,1136.7 C242.9,1131.7 245.9,1118.6 246.9,1114.4 C247.9,1110.2 250.9,1097.6 251.8,1094.5 C252.7,1091.4 255.0,1084.8 255.6,1083.4 C256.2,1082.0 257.4,1080.7 258.0,1080.9 C258.6,1081.1 261.1,1084.9 261.8,1085.8 C262.6,1086.7 264.9,1088.0 265.5,1089.6 C266.1,1091.2 267.4,1098.8 268.0,1102.0 C268.6,1105.2 270.8,1117.6 271.7,1121.8 C272.6,1126.0 275.6,1139.7 276.7,1144.2 C277.8,1148.7 281.5,1162.5 282.9,1166.5 C284.3,1170.5 288.8,1180.9 290.3,1183.9 C291.8,1186.9 296.3,1194.4 297.8,1196.3 C299.3,1198.2 304.1,1203.0 305.2,1203.2 C306.3,1203.5 307.7,1200.5 308.4,1198.8 C309.1,1197.1 311.1,1188.9 311.9,1186.4 C312.6,1183.9 315.2,1175.9 315.9,1174.0 C316.6,1172.1 318.6,1168.5 319.3,1167.7 C320.0,1167.0 322.1,1166.3 322.6,1166.5 C323.1,1166.7 323.9,1168.1 324.4,1169.7 C324.9,1171.3 326.7,1179.6 327.4,1182.1 C328.1,1184.6 330.4,1193.1 331.1,1195.0 C331.8,1196.9 333.7,1199.6 334.8,1200.7 C335.9,1201.8 340.3,1204.7 342.3,1205.7 C344.3,1206.7 352.5,1209.5 354.7,1210.7 C356.9,1211.9 362.6,1216.3 364.6,1217.4 C366.6,1218.5 372.5,1221.1 374.5,1221.8 C376.5,1222.5 382.5,1224.2 384.5,1224.8 C386.5,1225.3 392.9,1227.3 394.4,1227.3 C395.9,1227.2 398.4,1224.5 399.4,1224.3 C400.4,1224.0 403.2,1224.4 404.3,1224.8 C405.4,1225.2 409.4,1227.3 410.5,1228.0 C411.6,1228.7 414.4,1230.9 415.5,1231.8 C416.6,1232.7 420.6,1236.3 421.7,1237.2 C422.8,1238.1 425.5,1239.3 426.2,1240.4 C426.9,1241.5 427.9,1248.5 428.4,1248.6 C428.9,1248.7 430.9,1242.8 431.6,1241.7 C432.3,1240.6 434.4,1238.4 435.3,1238.0 C436.2,1237.6 439.4,1237.8 440.3,1238.0 C441.2,1238.2 443.2,1239.5 444.0,1240.4 C444.8,1241.3 447.1,1246.3 447.8,1246.6 C448.6,1246.8 450.8,1242.9 451.5,1242.9 C452.2,1243.0 453.9,1247.1 454.5,1247.1 C455.1,1247.1 456.8,1243.4 457.7,1242.9 C458.6,1242.4 461.7,1241.9 463.9,1241.7 C466.1,1241.5 477.7,1241.2 480.0,1241.2 C482.3,1241.2 486.1,1241.3 487.2,1241.2 C488.3,1241.1 490.3,1240.6 491.0,1240.0 C491.7,1239.4 493.4,1236.7 494.0,1235.0 C494.6,1233.3 495.9,1225.4 496.5,1223.5 C497.1,1221.6 499.1,1215.8 499.6,1215.6 C500.1,1215.4 501.3,1220.6 501.8,1222.0 C502.3,1223.4 504.0,1228.4 504.6,1229.5 C505.2,1230.6 507.6,1232.3 508.3,1233.0 C509.0,1233.7 511.2,1236.0 512.0,1236.5 C512.8,1237.0 515.0,1238.6 515.8,1238.5 C516.5,1238.4 518.8,1236.6 519.5,1235.5 C520.2,1234.4 521.9,1229.3 522.5,1227.5 C523.1,1225.7 524.7,1219.2 525.2,1217.0 C525.7,1214.8 527.2,1207.3 527.7,1205.0 C528.2,1202.7 530.1,1196.0 530.7,1194.0 C531.4,1192.0 533.6,1185.0 534.2,1184.5 C534.8,1184.0 536.3,1188.6 536.9,1189.5 C537.5,1190.4 539.3,1193.7 539.8,1193.5 C540.3,1193.3 541.8,1188.0 542.3,1188.0 C542.8,1188.0 543.9,1192.4 544.3,1193.0 C544.7,1193.6 545.9,1194.3 546.3,1194.0 C546.7,1193.7 548.0,1189.8 548.3,1189.5 C548.6,1189.2 549.0,1191.3 549.3,1191.0 C549.5,1190.7 550.5,1185.5 550.8,1186.0 C551.1,1186.5 552.0,1194.0 552.3,1196.0 C552.6,1198.0 553.6,1204.8 554.2,1206.5 C554.8,1208.2 557.3,1212.3 558.0,1213.5 C558.7,1214.7 560.6,1217.1 561.2,1218.5 C561.8,1219.9 563.5,1226.9 564.0,1227.5 C564.5,1228.1 565.8,1224.3 566.2,1224.5 C566.6,1224.7 568.0,1229.3 568.4,1229.5 C568.8,1229.7 569.9,1229.3 570.2,1226.0 C570.5,1222.7 571.3,1200.6 571.6,1196.2 C571.9,1191.8 572.8,1181.8 573.1,1181.8 C573.4,1181.8 574.5,1193.8 574.8,1196.2 C575.1,1198.6 575.9,1206.2 576.2,1205.6 C576.5,1205.0 577.5,1194.2 577.8,1190.5 C578.1,1186.8 579.0,1172.6 579.3,1168.8 C579.6,1165.0 580.4,1154.2 580.7,1152.9 C581.0,1151.6 582.1,1154.9 582.4,1155.8 C582.7,1156.7 583.6,1162.9 583.9,1162.3 C584.2,1161.7 585.0,1153.4 585.3,1150.0 C585.6,1146.6 586.3,1133.3 586.5,1128.3 C586.7,1123.2 587.3,1104.1 587.5,1099.5 C587.7,1094.9 588.3,1084.3 588.5,1082.1 C588.7,1079.9 589.5,1077.6 589.7,1077.8 C589.9,1078.0 590.5,1084.6 590.7,1083.6 C590.9,1082.6 591.5,1069.9 591.7,1067.7 C591.9,1065.5 592.4,1061.1 592.6,1061.2 C592.8,1061.3 593.6,1067.0 594.0,1069.1 C594.4,1071.2 595.8,1079.5 596.2,1082.1 C596.6,1084.7 597.7,1091.9 598.1,1095.1 C598.5,1098.3 599.5,1109.9 599.8,1113.9 C600.1,1118.0 600.9,1131.3 601.2,1135.6 C601.5,1139.9 602.4,1153.2 602.7,1157.2 C603.0,1161.2 603.8,1172.7 604.1,1176.0 C604.4,1179.3 605.4,1188.2 605.8,1190.5 C606.2,1192.8 607.3,1197.7 607.7,1199.1 C608.1,1200.5 609.5,1203.6 609.9,1204.2 C610.3,1204.8 611.7,1204.4 612.1,1204.9 C612.5,1205.4 613.2,1209.4 613.5,1209.2 C613.8,1209.0 614.7,1201.9 615.0,1202.5 C615.3,1203.1 616.1,1213.0 616.4,1215.0 C616.7,1217.0 617.5,1221.5 618.0,1222.8 C618.5,1224.1 620.5,1227.3 621.3,1228.0 C622.1,1228.7 625.0,1229.9 625.9,1230.0 C626.8,1230.1 629.6,1229.8 630.5,1229.3 C631.4,1228.8 633.8,1226.6 634.4,1225.4 C635.0,1224.2 636.5,1218.9 637.0,1217.5 C637.5,1216.1 639.1,1212.2 639.7,1211.0 C640.3,1209.8 642.5,1206.9 643.0,1205.7 C643.5,1204.5 644.5,1200.1 644.9,1199.1 C645.3,1198.0 646.5,1195.5 646.9,1195.2 C647.3,1194.9 648.5,1196.9 648.9,1196.5 C649.3,1196.1 650.4,1192.4 650.8,1191.2 C651.2,1190.0 652.3,1185.5 652.8,1184.7 C653.3,1183.9 655.4,1183.3 656.1,1183.1 C656.8,1182.9 658.9,1183.2 659.4,1182.7 C659.9,1182.2 661.0,1177.9 661.3,1178.1 C661.6,1178.3 662.4,1183.5 662.7,1184.7 C663.0,1185.9 664.1,1189.0 664.6,1189.9 C665.1,1190.8 666.8,1192.9 667.3,1193.9 C667.8,1195.0 669.4,1199.1 669.9,1200.4 C670.4,1201.7 672.0,1206.1 672.5,1207.0 C673.0,1207.9 674.6,1209.2 675.1,1209.6 C675.6,1210.0 677.3,1210.4 677.8,1210.9 C678.3,1211.4 679.8,1214.0 680.4,1214.9 C681.0,1215.8 683.5,1219.6 683.9,1220.1 L683.9,1271.1" fill="none" stroke="#f00" stroke-width="1.1" stroke-dasharray="4 2.5" stroke-linejoin="round"/>
<g stroke="#000" stroke-width="1.9" fill="none">
<path d="M148.4,948.6 H683.9 V1271.1 H148.4"/>
<path d="M159.7,948.6 V1282.4"/>
<path d="M153.9,975.5 H159.7"/>
<path d="M148.4,1002.4 H159.7"/>
<path d="M153.9,1029.2 H159.7"/>
<path d="M148.4,1056.1 H159.7"/>
<path d="M153.9,1083.0 H159.7"/>
<path d="M148.4,1109.8 H159.7"/>
<path d="M153.9,1136.7 H159.7"/>
<path d="M148.4,1163.6 H159.7"/>
<path d="M153.9,1190.5 H159.7"/>
<path d="M148.4,1217.3 H159.7"/>
<path d="M153.9,1244.2 H159.7"/>
<path d="M232.5,1271.1 V1276.9"/>
<path d="M305.3,1271.1 V1282.4"/>
<path d="M378.1,1271.1 V1276.9"/>
<path d="M450.9,1271.1 V1282.4"/>
<path d="M523.7,1271.1 V1276.9"/>
<path d="M596.5,1271.1 V1282.4"/>
<path d="M669.3,1271.1 V1276.9"/>
</g>
<path d="M683.9,1271.1 V1221.1" stroke="#d80000" stroke-width="1.9" stroke-dasharray="3 2.4" fill="none"/>
<path d="M159.3,1269.9 V1220.7" stroke="#c00000" stroke-width="0.6" stroke-dasharray="3 2.4" fill="none"/>
<g font-family="'Liberation Sans', Arial, sans-serif" font-size="30.3" fill="#000" stroke="#000" stroke-width="0.45" stroke-linejoin="round">
<text transform="translate(140.4,958.3) scale(1,1.04)" text-anchor="end">0.30</text>
<text transform="translate(140.4,1012.1) scale(1,1.04)" text-anchor="end">0.25</text>
<text transform="translate(140.4,1065.8) scale(1,1.04)" text-anchor="end">0.20</text>
<text transform="translate(140.4,1119.5) scale(1,1.04)" text-anchor="end">0.15</text>
<text transform="translate(140.4,1173.3) scale(1,1.04)" text-anchor="end">0.10</text>
<text transform="translate(140.4,1227.0) scale(1,1.04)" text-anchor="end">0.05</text>
<text transform="translate(140.4,1280.8) scale(1,1.04)" text-anchor="end">0.00</text>
<text transform="translate(159.7,1315.4) scale(1,1.04)" text-anchor="middle">4000</text>
<text transform="translate(305.3,1315.4) scale(1,1.04)" text-anchor="middle">3000</text>
<text transform="translate(450.9,1315.4) scale(1,1.04)" text-anchor="middle">2000</text>
<text transform="translate(596.5,1315.4) scale(1,1.04)" text-anchor="middle">1000</text>
</g>
<text font-family="'Liberation Sans', Arial, sans-serif" stroke="#000" stroke-width="0.45" stroke-linejoin="round" font-size="38.65" text-anchor="middle" transform="translate(52.3,1110.4) rotate(-90) scale(1,1.0)">Absorbance (a.u.)</text>
<text font-family="'Liberation Sans', Arial, sans-serif" stroke="#000" stroke-width="0.45" stroke-linejoin="round" font-size="38.7" transform="translate(251.4,1376.7) scale(1,1.0)">Wavenumber (cm<tspan font-size="24.5" dy="-17.3">-1</tspan><tspan dy="17.3" dx="2">)</tspan></text>
<text font-family="'Liberation Sans', Arial, sans-serif" stroke="#000" stroke-width="0.45" stroke-linejoin="round" font-size="50.5" transform="translate(-1.7,928.9) scale(1,1.0)">(c)</text>
<path d="M167.5,968.6 H219.7" stroke="#000" stroke-width="0.9"/>
<path d="M167.5,996.9 H215.8" stroke="#f00" stroke-width="0.9" stroke-dasharray="3.2 1.9"/>
<g font-family="'Liberation Sans', Arial, sans-serif" font-size="23.0" fill="#000" stroke="#000" stroke-width="0.3">
<text transform="translate(226.1,975.5) scale(1,1.04)" >Printed paper</text>
<text transform="translate(226.1,1004.1) scale(1,1.04)" >Plasma treated printed paper</text>
</g>
<g font-family="'Liberation Sans', Arial, sans-serif" font-size="30.3" fill="#000" stroke="#000" stroke-width="0.45" stroke-linejoin="round">
<text transform="translate(182.8,1042.6) scale(1,1.04)" >OH</text>
<text transform="translate(340.6,1146.5) scale(1,1.04)" >CH<tspan font-size="19.5" dy="9.2">x</tspan></text>
<text transform="translate(385.2,1199.1) scale(1,1.04)" >C=N/C=O</text>
<text transform="translate(509.1,1167.9) scale(1,1.04)" >C-H</text>
<text transform="translate(532.8,1024.7) scale(1,1.04)" >C-O/C-C</text>
</g>
<g stroke="#111" stroke-width="1.05" fill="none">
<path d="M227.7,1035.2 L254.9,1043.5"/>
<path d="M339.9,1140.1 L323.5,1153.2"/>
<path d="M480.0,1201.4 L499.6,1213.6"/>
<path d="M524.2,1172.2 L550.3,1172.2"/>
<path d="M568.3,1031.3 L616.7,1031.3"/>
</g>
</g>
</svg>
</body></html>
